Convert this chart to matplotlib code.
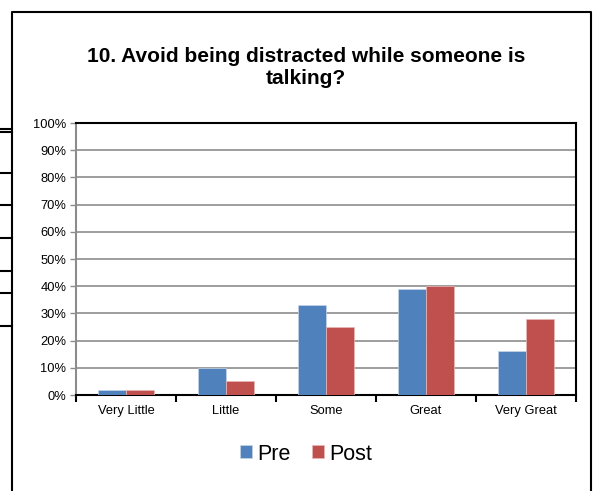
import matplotlib

matplotlib.use("Agg")
import matplotlib.pyplot as plt  # noqa: E402
import numpy as np  # noqa: E402
from matplotlib.lines import Line2D  # noqa: E402
from matplotlib.ticker import FixedLocator, PercentFormatter  # noqa: E402

plt.rcParams["font.family"] = ["Liberation Sans", "DejaVu Sans"]

categories = ["Very Little", "Little", "Some", "Great", "Very Great"]
pre = [2, 10, 33, 39, 16]
post = [2, 5, 25, 40, 28]
title = "10. Avoid being distracted while someone is\ntalking?"

W, H = 604, 491
fig = plt.figure(figsize=(W / 100, H / 100), dpi=100)
ax = fig.add_axes([76 / W, 1 - 395 / H, 500 / W, 272 / H])

x = np.arange(len(categories))
bw = 0.28
ax.bar(x - bw / 2, pre, bw, color="#4F81BD", edgecolor="#c6d5ea", lw=0.5, label="Pre", zorder=3)
ax.bar(x + bw / 2, post, bw, color="#C0504D", edgecolor="#e6b9b8", lw=0.5, label="Post", zorder=3)

ax.set_xlim(-0.5, len(categories) - 0.5)
ax.set_ylim(0, 100)
ax.set_yticks(np.arange(0, 101, 10))
ax.yaxis.set_major_formatter(PercentFormatter(decimals=0))
ax.grid(axis="y", color="#8c8c8c", lw=1.2, zorder=0)

ax.set_xticks(x)
ax.set_xticklabels(categories, fontsize=9.3)
ax.xaxis.set_minor_locator(FixedLocator(np.arange(-0.5, len(categories), 1)))
ax.tick_params(axis="x", which="major", length=0, pad=7)
ax.tick_params(axis="x", which="minor", length=5, width=1.5, color="black")
ax.tick_params(axis="y", labelsize=9.3, length=4, color="#8c8c8c", width=1, pad=3)

for side in ("top", "right", "bottom"):
    ax.spines[side].set_color("black")
    ax.spines[side].set_linewidth(1.5)
ax.spines["left"].set_color("#8c8c8c")
ax.spines["left"].set_linewidth(1.5)

fig.text(306 / W, 1 - 67 / H, title, ha="center", va="center",
         fontsize=15, fontweight="bold", linespacing=1.2)

fig.legend(loc="center", bbox_to_anchor=(306 / W, 1 - 454 / H), ncol=2, frameon=False,
           fontsize=15.5, handlelength=0.55, handleheight=0.55, handletextpad=0.25,
           columnspacing=1.0)

# outer chart border and stray edge fragments seen in the source image
fig.add_artist(Line2D([12 / W, 12 / W, 591 / W, 591 / W],
                      [0, 1 - 12 / H, 1 - 12 / H, 0],
                      transform=fig.transFigure, color="black", lw=1.5))
for yy in [129, 132, 173, 205, 238, 271, 293, 326]:
    fig.add_artist(Line2D([0, 12 / W], [1 - yy / H, 1 - yy / H],
                          transform=fig.transFigure, color="black", lw=1.5))

fig.savefig("out.png", dpi=100)
